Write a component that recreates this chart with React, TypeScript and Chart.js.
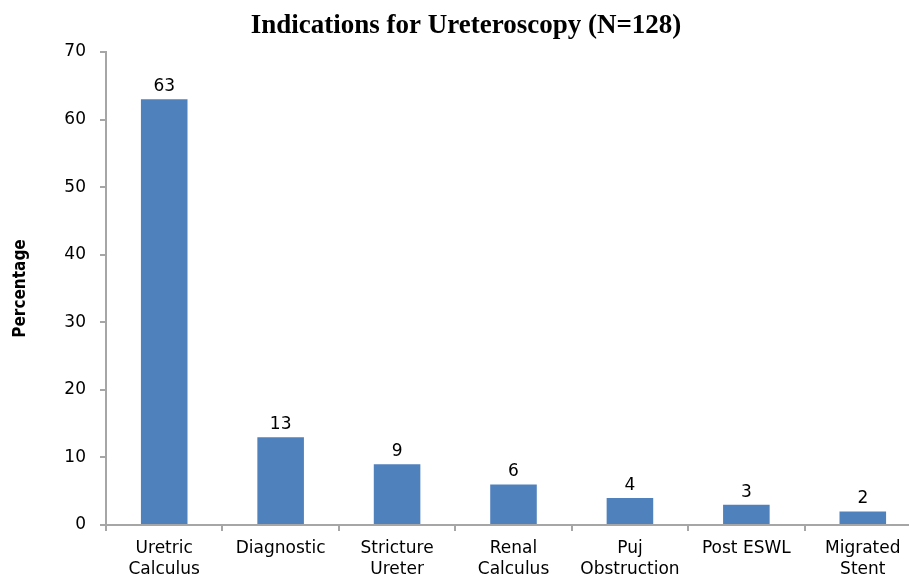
import React, { useEffect, useRef } from "react";
import { Chart, registerables } from "chart.js";

Chart.register(...registerables);

const categories: string[][] = [
  ["Uretric", "Calculus"],
  ["Diagnostic"],
  ["Stricture", "Ureter"],
  ["Renal", "Calculus"],
  ["Puj", "Obstruction"],
  ["Post ESWL"],
  ["Migrated", "Stent"],
];
const values: number[] = [63, 13, 9, 6, 4, 3, 2];
const yTicks: number[] = [0, 10, 20, 30, 40, 50, 60, 70];
const titleText = "Indications for Ureteroscopy (N=128)";
const yTitle = "Percentage";

const BLUE = "#4F81BD";
const AXIS = "#A6A6A6";
const TICK_FONT = "'DejaVu Sans', sans-serif";

const overlay = {
  id: "overlay",
  afterDatasetsDraw(chart: any) {
    const ctx = chart.ctx;
    const meta = chart.getDatasetMeta(0);
    ctx.save();
    ctx.fillStyle = "#000";
    ctx.font = `17px ${TICK_FONT}`;
    ctx.textAlign = "center";
    ctx.textBaseline = "bottom";
    meta.data.forEach((bar: any, i: number) => {
      ctx.fillText(String(values[i]), bar.x, bar.y - 4);
    });
    ctx.font = "bold 27px 'Liberation Serif', serif";
    ctx.textBaseline = "middle";
    ctx.fillText(titleText, 466, 26);
    ctx.restore();
  },
};

export default function App() {
  const ref = useRef<HTMLCanvasElement | null>(null);
  useEffect(() => {
    document.body.style.margin = "0";
    document.body.style.overflow = "hidden";
    const chart = new Chart(ref.current as HTMLCanvasElement, {
      type: "bar",
      data: {
        labels: categories,
        datasets: [
          {
            data: values,
            backgroundColor: BLUE,
            borderWidth: 0,
            barPercentage: 0.8,
            categoryPercentage: 0.5,
          },
        ],
      },
      options: {
        animation: false,
        responsive: false,
        layout: { padding: { top: 52, right: 9, left: 0, bottom: 0 } },
        plugins: { legend: { display: false }, tooltip: { enabled: false }, title: { display: false } },
        scales: {
          x: {
            afterFit: (s: any) => { s.height = 51; },
            grid: { display: true, offset: true, drawOnChartArea: false, drawTicks: true, tickLength: 6, color: AXIS, lineWidth: 2 },
            border: { color: AXIS, width: 2 },
            ticks: { color: "#000", font: { family: TICK_FONT, size: 17, lineHeight: 1.25 }, padding: 7, maxRotation: 0, autoSkip: false },
          },
          y: {
            min: 0,
            max: 70,
            afterFit: (s: any) => { s.width = 106; },
            afterBuildTicks: (s: any) => { s.ticks = yTicks.map((v) => ({ value: v })); },
            grid: { display: true, drawOnChartArea: false, drawTicks: true, tickLength: 6, color: AXIS, lineWidth: 2 },
            border: { color: AXIS, width: 2 },
            ticks: { color: "#000", font: { family: TICK_FONT, size: 17 }, padding: 14 },
            title: {
              display: true,
              text: yTitle,
              color: "#000",
              font: { family: "'Liberation Sans Narrow', 'DejaVu Sans Condensed', sans-serif", size: 17, weight: "bold" },
              padding: { top: 10, bottom: 0 },
            },
          },
        },
      },
      plugins: [overlay],
    });
    return () => chart.destroy();
  }, []);
  return (
    <div style={{ position: "fixed", left: 0, top: 0, width: 930, height: 576, background: "#fff" }}>
      <canvas ref={ref} width={930} height={576} style={{ width: 930, height: 576 }} />
    </div>
  );
}
